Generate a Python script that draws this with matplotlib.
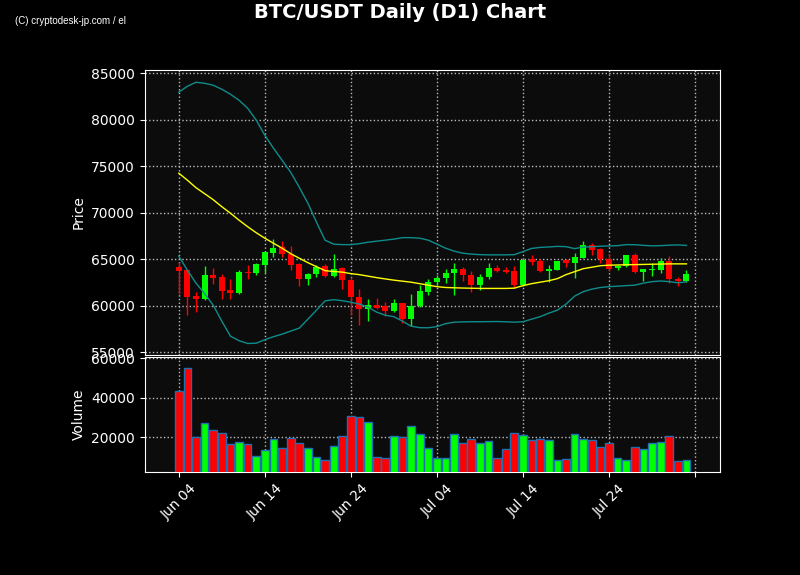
import pandas as pd
import matplotlib
matplotlib.use("Agg")
import matplotlib.pyplot as plt
import matplotlib.dates as mdates

# ---------------------------------------------------------------
# Daily candles (Jun 04 .. Aug 02)
# ---------------------------------------------------------------
dates = pd.date_range("2024-06-04", periods=60, freq="D")

opens = [64140, 63820, 61050, 60730, 63280, 63070, 61670, 61380, 63600, 63530,
         64390, 65680, 66290, 65610, 64460, 62880, 63460, 64250, 63170, 64070,
         62740, 60990, 59700, 60050, 59950, 59440, 60240, 58520, 59950, 61490,
         62500, 62990, 63570, 64000, 63350, 62280, 63100, 64100, 63850, 63710,
         62210, 65000, 64780, 63740, 63850, 64890, 64570, 65140, 66510, 66080,
         65070, 64070, 64280, 65430, 63640, 63850, 63850, 64780, 62920, 62670]
highs = [64710, 63900, 61480, 64250, 64100, 63460, 62820, 63890, 64350, 64570,
         65800, 67220, 66930, 66400, 64540, 63530, 64430, 64450, 65610, 64200,
         63100, 61850, 60700, 60880, 60410, 60670, 60300, 61310, 62210, 62920,
         63280, 63920, 64600, 64180, 63710, 63460, 64640, 64430, 64180, 64280,
         65000, 65500, 65000, 64350, 64850, 65070, 65680, 66930, 66790, 66260,
         65610, 64430, 65500, 65720, 64000, 64540, 65180, 65360, 63100, 63820]
lows = [61310, 59050, 59330, 60650, 62380, 60670, 60670, 61300, 62820, 63350,
        63530, 65250, 65250, 63890, 62170, 62280, 63100, 63100, 63100, 61850,
        59050, 57980, 58330, 59650, 58870, 59300, 58150, 57800, 59900, 61200,
        62280, 62460, 61200, 62640, 61490, 61670, 62820, 63650, 63570, 61920,
        62150, 64430, 63640, 62500, 63800, 64180, 62990, 65100, 65500, 64640,
        63710, 63820, 64180, 63530, 62670, 63210, 63530, 62390, 62140, 62600]
closes = [63710, 60950, 60750, 63280, 62990, 61590, 61380, 63600, 63490, 64460,
          65750, 66260, 65540, 64350, 62880, 63460, 64180, 63200, 64000, 62740,
          60950, 59700, 60050, 59800, 59440, 60240, 58520, 59950, 61560, 62500,
          63030, 63570, 64000, 63350, 62280, 63100, 64100, 63740, 63640, 62280,
          64960, 64710, 63740, 64000, 64780, 64600, 65220, 66510, 65970, 65000,
          64000, 64280, 65430, 63640, 63920, 64000, 64780, 62820, 62670, 63390]
volumes = [43650, 55000, 20000, 27000, 23500, 22000, 16650, 17500, 16500, 10650,
           13500, 19000, 14500, 19500, 17000, 14500, 10000, 8500, 15650, 20650,
           31000, 30500, 27500, 10000, 9500, 20650, 20000, 25500, 21500, 14500,
           9500, 9500, 21500, 17000, 19000, 17000, 18000, 9500, 14000, 22000,
           21000, 18500, 19000, 18500, 8500, 9000, 21500, 19000, 18500, 15000,
           17000, 9500, 8500, 15000, 14000, 17000, 17500, 20650, 8000, 8500]

# 20-day SMA and Bollinger bands as drawn on the chart
sma20 = [74250, 73500, 72690, 72050, 71400, 70650, 69950, 69200, 68500, 67850,
         67260, 66720, 66190, 65600, 65110, 64630, 64200, 63770, 63680, 63610,
         63450, 63340, 63180, 63020, 62880, 62750, 62640, 62530, 62370, 62210,
         62050, 61960, 61930, 61900, 61880, 61860, 61860, 61860, 61860, 61890,
         62160, 62370, 62530, 62690, 62910, 63340, 63660, 63980, 64140, 64300,
         64360, 64380, 64410, 64420, 64440, 64460, 64480, 64500, 64500, 64500]
bb_upper = [82960, 83600, 84030, 83920, 83710, 83280, 82740, 82100, 81240, 79950,
            78330, 76940, 75650, 74360, 72740, 71030, 68990, 67050, 66620, 66570,
            66570, 66670, 66830, 66940, 67050, 67160, 67320, 67320, 67260, 67050,
            66620, 66190, 65870, 65650, 65550, 65490, 65470, 65470, 65470, 65490,
            65820, 66160, 66270, 66320, 66380, 66350, 66140, 66300, 66350, 66400,
            66430, 66460, 66570, 66560, 66490, 66440, 66460, 66510, 66540, 66480]
bb_lower = [65330, 63820, 62430, 61300, 60060, 58340, 56730, 56240, 55940, 55970,
            56350, 56670, 56940, 57270, 57590, 58550, 59520, 60520, 60650, 60540,
            60380, 60170, 59840, 59310, 58980, 58820, 58340, 57800, 57640, 57630,
            57750, 58070, 58230, 58260, 58280, 58280, 58290, 58300, 58270, 58230,
            58280, 58550, 58820, 59200, 59520, 60170, 61030, 61510, 61780, 61960,
            62050, 62100, 62160, 62210, 62430, 62590, 62660, 62590, 62460, 62570]

tick_days = pd.date_range("2024-06-04", periods=7, freq="10D")
tick_labels = ["Jun 04", "Jun 14", "Jun 24", "Jul 04", "Jul 14", "Jul 24", ""]

# ---------------------------------------------------------------
# Plot
# ---------------------------------------------------------------
df = pd.DataFrame({"Open": opens, "High": highs, "Low": lows,
                   "Close": closes, "Volume": volumes}, index=dates)
x = mdates.date2num(df.index.to_pydatetime())
up = df["Close"] >= df["Open"]
colors = ["#00ff00" if u else "#ff0000" for u in up]

fig = plt.figure(figsize=(8, 5.75), dpi=100, facecolor="black")
ax = fig.add_axes([0.181, 0.3826, 0.719, 0.4957])
axv = fig.add_axes([0.181, 0.179, 0.719, 0.2])

for a in (ax, axv):
    a.set_facecolor("#0c0c0c")
    a.grid(True, color="#bbbbbb", linestyle=":", linewidth=1)
    a.set_axisbelow(True)
    for s in a.spines.values():
        s.set_color("white")
    a.tick_params(colors="white", labelsize=10)

# candles
ax.vlines(x, df["Low"], df["High"], colors=colors, linewidth=1, zorder=2)
body_low = df[["Open", "Close"]].min(axis=1)
body_h = (df["Close"] - df["Open"]).abs()
ax.bar(x, body_h, bottom=body_low, width=0.7, color=colors, zorder=3)

ax.plot(x, sma20, color="yellow", linewidth=1, zorder=4)
ax.plot(x, bb_upper, color="#0f8c8c", linewidth=1, zorder=4)
ax.plot(x, bb_lower, color="#0f8c8c", linewidth=1, zorder=4)

ax.set_ylim(54700, 85350)
ax.set_yticks(range(55000, 85001, 5000))
ax.set_ylabel("Price", color="white", fontsize=10)
ax.tick_params(axis="x", bottom=False, labelbottom=False)

# volume
axv.bar(x, df["Volume"], width=0.9, color=colors, edgecolor="#1f6fb4",
        linewidth=1, zorder=3)
axv.set_ylim(2300, 60700)
axv.set_yticks([20000, 40000, 60000])
axv.set_ylabel("Volume", color="white", fontsize=10)

xt = mdates.date2num(tick_days.to_pydatetime())
for a in (ax, axv):
    a.set_xlim(x[0] - 3.95, x[0] + 62.9)
    a.set_xticks(xt)
axv.set_xticklabels(tick_labels, rotation=45)

fig.suptitle("BTC/USDT Daily (D1) Chart", color="white", fontsize=14,
             fontweight="bold", y=0.995)
fig.text(0.019, 0.963, "(C) cryptodesk-jp.com / el", color="white",
         fontsize=7, family="Liberation Sans", va="center")

fig.savefig("out.png", dpi=100, facecolor="black")
